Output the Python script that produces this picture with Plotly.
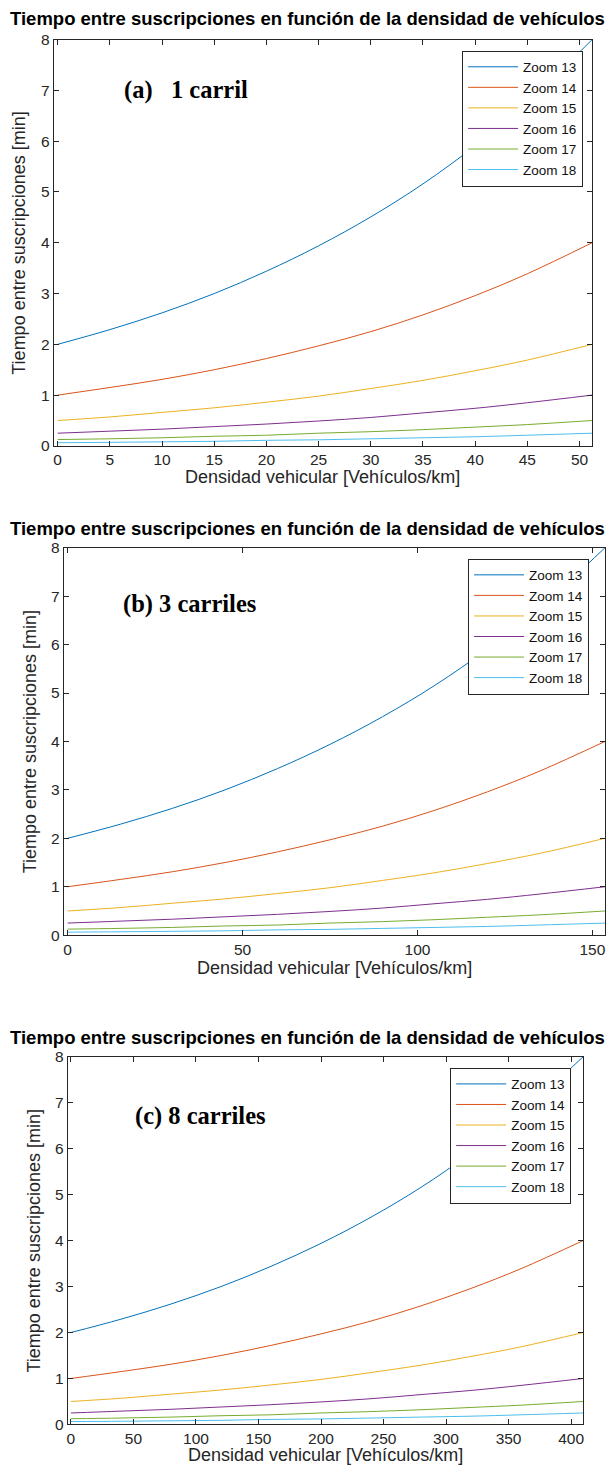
import plotly.graph_objects as go

W, H = 614, 1472

# ---------------- data ----------------
series_names = ["Zoom 13", "Zoom 14", "Zoom 15", "Zoom 16", "Zoom 17", "Zoom 18"]

density_1_lane = [0, 5, 10, 15, 20, 25, 30, 35, 40, 45, 51.2]
density_3_lanes = [0, 15, 30, 45, 60, 75, 90, 105, 120, 135, 153.6]
density_8_lanes = [0, 40, 80, 120, 160, 200, 240, 280, 320, 360, 409.6]

zoom13 = [2.00, 2.29, 2.62, 3.00, 3.44, 3.94, 4.51, 5.16, 5.91, 6.77, 8.00]
zoom14 = [1.00, 1.15, 1.31, 1.50, 1.72, 1.97, 2.25, 2.58, 2.96, 3.39, 4.00]
zoom15 = [0.50, 0.57, 0.66, 0.75, 0.86, 0.98, 1.13, 1.29, 1.48, 1.69, 2.00]
zoom16 = [0.25, 0.29, 0.33, 0.38, 0.43, 0.49, 0.56, 0.65, 0.74, 0.85, 1.00]
zoom17 = [0.125, 0.14, 0.16, 0.19, 0.21, 0.25, 0.28, 0.32, 0.37, 0.42, 0.50]
zoom18 = [0.0625, 0.07, 0.08, 0.09, 0.11, 0.12, 0.14, 0.16, 0.18, 0.21, 0.25]
series_values = [zoom13, zoom14, zoom15, zoom16, zoom17, zoom18]

x_ticks_1 = [0, 5, 10, 15, 20, 25, 30, 35, 40, 45, 50]
x_ticks_3 = [0, 50, 100, 150]
x_ticks_8 = [0, 50, 100, 150, 200, 250, 300, 350, 400]
y_ticks = [0, 1, 2, 3, 4, 5, 6, 7, 8]

title_text = "Tiempo entre suscripciones en función de la densidad de vehículos"
x_title = "Densidad vehicular [Vehículos/km]"
y_title = "Tiempo entre suscripciones [min]"
panel_labels = ["(a)   1 carril", "(b) 3 carriles", "(c) 8 carriles"]

# ---------------- style ----------------
colors = ["#0072BD", "#D95319", "#EDB120", "#7E2F8E", "#77AC30", "#4DBEEE"]
SANS = "Liberation Sans, Arial, sans-serif"
SERIF = "Liberation Serif, Times New Roman, serif"
AX = "#262626"


def px_x(p):
    return p / W


def px_y(p):
    return 1 - p / H


# per panel layout in page pixels
panels = [
    dict(xs=density_1_lane, xt=x_ticks_1, xr=[-0.37, 51.2], lr=(53, 593), tb=(31, 442),
         leg=(584, 42), lab=(12.3, 7.0), title_y=10, ytitle_x=18, xtitle_y=473),
    dict(xs=density_3_lanes, xt=x_ticks_3, xr=[-1.1, 153.6], lr=(63, 606), tb=(545, 937),
         leg=(590, 556), lab=(34.9, 6.84), title_y=526, ytitle_x=30, xtitle_y=970),
    dict(xs=density_8_lanes, xt=x_ticks_8, xr=[-2.5, 409.6], lr=(67, 584), tb=(1060, 1432),
         leg=(572, 1071), lab=(103.5, 6.71), title_y=1041, ytitle_x=33, xtitle_y=1463),
]

fig = go.Figure()
annotations = []
for i, p in enumerate(panels):
    n = "" if i == 0 else str(i + 1)
    leg = "legend" if i == 0 else f"legend{i + 1}"
    for name, vals, col in zip(series_names, series_values, colors):
        fig.add_trace(go.Scatter(
            x=p["xs"], y=vals, mode="lines", name=name,
            line=dict(color=col, width=1, shape="spline", smoothing=1.0),
            xaxis=f"x{n}", yaxis=f"y{n}", legend=leg, showlegend=True,
        ))
    l, r = p["lr"]
    t, b = p["tb"]
    common = dict(
        showline=True, linecolor=AX, linewidth=1, mirror="ticks",
        ticks="inside", ticklen=5, tickcolor=AX, tickwidth=1,
        showgrid=False, zeroline=False,
        tickfont=dict(family=SANS, size=15.5, color=AX),
    )
    fig.layout[f"xaxis{n}"] = dict(
        common, domain=[px_x(l), px_x(r)], range=p["xr"], anchor=f"y{n}",
        tickmode="array", tickvals=p["xt"],
    )
    fig.layout[f"yaxis{n}"] = dict(
        common, domain=[px_y(b), px_y(t)], range=[0, 8], anchor=f"x{n}",
        tickmode="array", tickvals=y_ticks,
    )
    lrx, lty = p["leg"]
    fig.layout[leg] = dict(
        x=px_x(lrx), y=px_y(lty), xanchor="right", yanchor="top",
        bgcolor="white", bordercolor=AX, borderwidth=1,
        font=dict(family=SANS, size=13.5, color="#111111"),
        tracegroupgap=0, itemwidth=50,
    )
    annotations.append(dict(
        text=f"<b>{title_text}</b>", x=px_x(307), y=px_y(p["title_y"]), xref="paper", yref="paper",
        xanchor="center", yanchor="middle", showarrow=False,
        font=dict(family=SANS, size=18.5, color="black"),
    ))
    annotations.append(dict(
        text=f"<b>{panel_labels[i]}</b>", x=p["lab"][0], y=p["lab"][1],
        xref=f"x{n}", yref=f"y{n}", xanchor="center", yanchor="middle", showarrow=False,
        font=dict(family=SERIF, size=24.5, color="black"),
    ))
    annotations.append(dict(
        text=y_title, x=px_x(p["ytitle_x"]), y=px_y((t + b) / 2), xref="paper", yref="paper",
        xanchor="center", yanchor="middle", showarrow=False, textangle=-90,
        font=dict(family=SANS, size=18, color=AX),
    ))
    annotations.append(dict(
        text=x_title, x=px_x((l + r) / 2), y=px_y(p["xtitle_y"]), xref="paper", yref="paper",
        xanchor="center", yanchor="middle", showarrow=False,
        font=dict(family=SANS, size=18, color=AX),
    ))

fig.update_layout(
    width=W, height=H,
    margin=dict(l=0, r=0, t=0, b=0),
    paper_bgcolor="white", plot_bgcolor="white",
    annotations=annotations,
)

fig.write_html(
    "out.html",
    config={"displayModeBar": False},
    post_script="document.body.style.margin='0px';",
)
